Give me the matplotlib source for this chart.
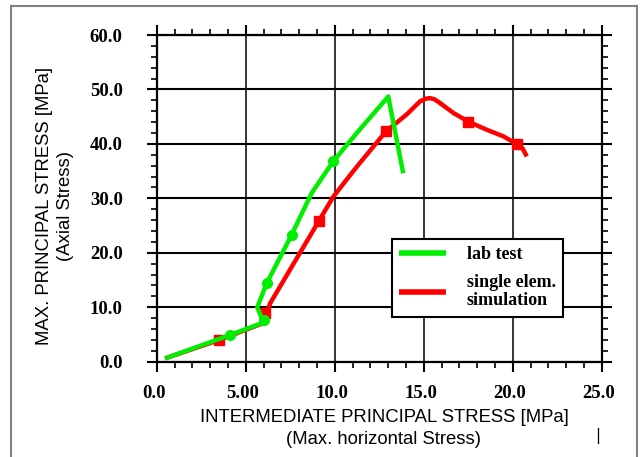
import matplotlib
matplotlib.use("Agg")
import matplotlib.pyplot as plt
from matplotlib.lines import Line2D
from matplotlib.ticker import MultipleLocator, FixedLocator, FixedFormatter
import matplotlib.transforms as mtransforms

# ---- data ----
lab_x = [0.47, 4.12, 6.00, 5.65, 6.18, 7.58, 8.71, 9.92, 11.24, 13.01, 13.85]
lab_y = [0.6, 4.9, 7.2, 10.0, 14.4, 23.3, 31.0, 36.8, 42.0, 48.7, 34.6]
lab_mx = [4.12, 6.00, 6.18, 7.58, 9.92]
lab_my = [4.9, 7.6, 14.4, 23.3, 36.8]

sim_x = [0.47, 3.52, 6.00, 6.37, 7.49, 9.12, 9.92, 11.24, 12.88, 14.04, 14.79,
         15.10, 15.35, 15.60, 15.92, 16.66, 17.50, 18.54, 19.47, 20.22, 20.55, 20.79]
sim_y = [0.6, 4.0, 7.1, 10.7, 16.9, 25.9, 30.3, 35.8, 42.3, 45.4, 47.8,
         48.3, 48.4, 48.2, 47.5, 45.7, 44.1, 42.6, 41.4, 40.0, 39.2, 37.7]
sim_mx = [3.52, 6.10, 9.12, 12.88, 17.50, 20.22]
sim_my = [4.0, 9.0, 25.9, 42.3, 44.1, 40.0]

x_ticks = [0, 5, 10, 15, 20, 25]
x_tick_labels = ["0.0", "5.00", "10.0", "15.0", "20.0", "25.0"]
y_ticks = [0, 10, 20, 30, 40, 50, 60]
y_tick_labels = ["0.0", "10.0", "20.0", "30.0", "40.0", "50.0", "60.0"]

labels = ["lab test", "single elem.\nsimulation"]
colors = ["#00ee00", "#ff0000"]

W, H = 642, 457
fig = plt.figure(figsize=(W / 100, H / 100), dpi=100)
ax = fig.add_axes([156.7 / W, 1 - 361.7 / H, 445 / W, 326.7 / H])

ax.plot(sim_x, sim_y, color=colors[1], lw=3.2, solid_capstyle="butt",
        solid_joinstyle="round", label=labels[1], zorder=3)
ax.plot(sim_mx, sim_my, ls="none", marker="s", ms=7, color=colors[1], zorder=3)
ax.plot(lab_x, lab_y, color=colors[0], lw=3.2, solid_capstyle="butt",
        solid_joinstyle="round", label=labels[0], zorder=4)
ax.plot(lab_mx, lab_my, ls="none", marker="o", ms=7, color=colors[0], zorder=4)

ax.set_xlim(0, 25)
ax.set_ylim(0, 60)
ax.xaxis.set_major_locator(FixedLocator(x_ticks))
ax.xaxis.set_major_formatter(FixedFormatter(x_tick_labels))
ax.yaxis.set_major_locator(FixedLocator(y_ticks))
ax.yaxis.set_major_formatter(FixedFormatter(y_tick_labels))
ax.xaxis.set_minor_locator(MultipleLocator(1))
ax.yaxis.set_minor_locator(MultipleLocator(2))

ax.grid(True, which="major", axis="x", color="black", lw=1.1, zorder=1)
ax.grid(True, which="major", axis="y", color="black", lw=1.5, zorder=1)
for s in ax.spines.values():
    s.set_linewidth(1.6)
    s.set_zorder(5)

ax.tick_params(which="both", direction="out", top=True, right=True,
               color="black")
ax.tick_params(which="major", length=7.5, width=1.5)
ax.tick_params(which="minor", length=4.3, width=1.2)
ax.tick_params(axis="x", which="major", pad=9.5, labelsize=13.5)
ax.tick_params(axis="y", which="major", pad=17, labelsize=13.5)
for lab in ax.get_xticklabels() + ax.get_yticklabels():
    lab.set_fontfamily("Liberation Serif")
    lab.set_fontweight("bold")
offset = mtransforms.ScaledTranslation(-3 / 100, 0, fig.dpi_scale_trans)
for lab in ax.get_xticklabels():
    lab.set_transform(lab.get_transform() + offset)

# legend
handles, labs = ax.get_legend_handles_labels()
order = [1, 0]
leg = ax.legend([handles[i] for i in order], [labs[i] for i in order],
                loc="upper left",
                bbox_to_anchor=((391.7 - 156.7) / 445, (361.7 - 239) / 326.7),
                borderaxespad=0, prop=dict(family="Liberation Serif", weight="bold", size=13),
                handlelength=2.6, handletextpad=1.15, borderpad=0.4,
                labelspacing=0.6, fancybox=False, framealpha=1,
                edgecolor="black")
leg.get_frame().set_linewidth(1.5)
leg.set_zorder(6)
for t in leg.get_texts():
    t.set_linespacing(1.1)
for l in leg.get_lines():
    l.set_linewidth(4)

# axis titles
sans = dict(family="Liberation Sans", size=13.3)
fig.text(384 / W, 1 - 418 / H, "INTERMEDIATE PRINCIPAL STRESS [MPa]",
         ha="center", va="center", **sans)
fig.text(384 / W, 1 - 440 / H, "(Max. horizontal Stress)",
         ha="center", va="center", **sans)
fig.text(45 / W, 1 - 206 / H, "MAX. PRINCIPAL STRESS [MPa]", rotation=90,
         ha="center", va="center", **sans)
fig.text(65 / W, 1 - 206 / H, "(Axial Stress)", rotation=90,
         ha="center", va="center", **sans)

# frame border and small mark
gray = "#808080"
fig.add_artist(Line2D([11 / W, 11 / W], [0, 1 - 6 / H], color=gray, lw=1.5))
fig.add_artist(Line2D([11 / W, 637 / W], [1 - 6 / H, 1 - 6 / H], color=gray, lw=1.5))
fig.add_artist(Line2D([637 / W, 637 / W], [0, 1 - 6 / H], color=gray, lw=1.5))
fig.add_artist(Line2D([597.7 / W, 597.7 / W], [1 - 443 / H, 1 - 428 / H], color="black", lw=0.9))

fig.savefig("out.png", dpi=100)
